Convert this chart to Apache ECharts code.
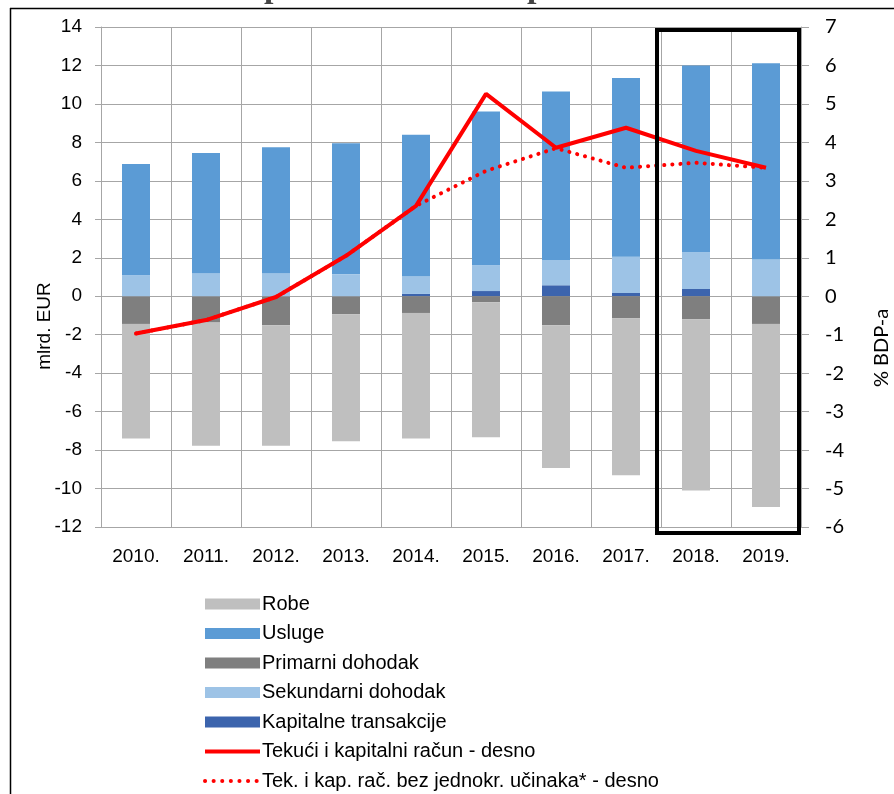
<!DOCTYPE html>
<html>
<head>
<meta charset="utf-8">
<script src="https://cdn.jsdelivr.net/npm/echarts@6/dist/echarts.min.js"></script>
<style>
html,body{margin:0;padding:0;background:#fff;}
#chart{width:894px;height:794px;}
</style>
</head>
<body>
<div id="chart"></div>
<script>
const categories = ['2010.', '2011.', '2012.', '2013.', '2014.', '2015.', '2016.', '2017.', '2018.', '2019.'];
const robe = [-5.96, -6.41, -6.27, -6.60, -6.53, -7.01, -7.42, -8.16, -8.90, -9.52];
const usluge = [5.79, 6.25, 6.55, 6.80, 7.38, 7.99, 8.76, 9.30, 9.71, 10.20];
const primarni = [-1.44, -1.37, -1.51, -0.94, -0.87, -0.32, -1.51, -1.15, -1.20, -1.44];
const sekundarni = [1.09, 1.20, 1.20, 1.15, 0.90, 1.34, 1.32, 1.88, 1.91, 1.91];
const kapitalne = [0, 0, 0, 0, 0.12, 0.27, 0.57, 0.17, 0.38, 0];
const tekuciKapitalni = [-0.97, -0.62, -0.02, 1.05, 2.35, 5.26, 3.86, 4.38, 3.78, 3.34];
const bezJednokratnih = [-0.97, -0.62, -0.02, 1.05, 2.35, 3.26, 3.85, 3.34, 3.47, 3.34];
const leftTicks = { min: -12, max: 14, interval: 2 };
const rightTicks = { min: -6, max: 7, interval: 1 };

const names = {
  robe: 'Robe',
  usluge: 'Usluge',
  primarni: 'Primarni dohodak',
  sekundarni: 'Sekundarni dohodak',
  kapitalne: 'Kapitalne transakcije',
  tekuci: 'Tekući i kapitalni račun - desno',
  bez: 'Tek. i kap. rač. bez jednokr. učinaka* - desno'
};

const chart = echarts.init(document.getElementById('chart'), null, { renderer: 'canvas' });
const gridColor = '#A6A6A6';
const barW = 28;

function bar(name, data, color) {
  return {
    name: name, type: 'bar', stack: 'total', data: data, barWidth: barW,
    itemStyle: { color: color }, emphasis: { disabled: true }
  };
}

const option = {
  animation: false,
  textStyle: { fontFamily: 'Liberation Sans, Arial, sans-serif' },
  grid: { left: 101, right: 93, top: 27, bottom: 267, containLabel: false },
  legend: {
    orient: 'vertical',
    left: 198,
    top: 589,
    height: 260,
    itemWidth: 55,
    itemHeight: 11,
    itemGap: 9.5,
    textStyle: { fontSize: 20, color: '#000', fontFamily: 'Liberation Sans, Arial, sans-serif', padding: [0, 0, 0, -3] },
    data: [
      { name: names.robe, icon: 'rect' },
      { name: names.usluge, icon: 'rect' },
      { name: names.primarni, icon: 'rect' },
      { name: names.sekundarni, icon: 'rect' },
      { name: names.kapitalne, icon: 'rect' },
      { name: names.tekuci, itemStyle: { opacity: 0 }, lineStyle: { width: 4 } },
      { name: names.bez, itemStyle: { opacity: 0 }, lineStyle: { width: 4, type: [0.1, 8.5], cap: 'round' } }
    ],
    selectedMode: false
  },
  xAxis: {
    type: 'category',
    data: categories,
    boundaryGap: true,
    axisLine: { show: true, lineStyle: { color: gridColor, width: 1 } },
    axisTick: { show: false },
    axisLabel: { fontSize: 19, color: '#000', margin: 20, fontFamily: 'Liberation Sans, Arial, sans-serif' },
    splitLine: { show: true, interval: 0, lineStyle: { color: gridColor, width: 1 } }
  },
  yAxis: [
    {
      type: 'value',
      min: leftTicks.min, max: leftTicks.max, interval: leftTicks.interval,
      axisLine: { show: true, lineStyle: { color: gridColor } },
      axisTick: { show: true, length: 6, lineStyle: { color: gridColor } },
      axisLabel: { fontSize: 19, color: '#000', margin: 19, fontFamily: 'Liberation Sans, Arial, sans-serif' },
      splitLine: { show: true, lineStyle: { color: gridColor, width: 1 } }
    },
    {
      type: 'value',
      min: rightTicks.min, max: rightTicks.max, interval: rightTicks.interval,
      position: 'right',
      axisLine: { show: true, lineStyle: { color: gridColor } },
      axisTick: { show: true, length: 8, lineStyle: { color: gridColor } },
      axisLabel: { fontSize: 20, color: '#000', margin: 24, align: 'left', fontFamily: 'Lato, Open Sans, sans-serif' },
      splitLine: { show: false }
    }
  ],
  series: [
    bar(names.kapitalne, kapitalne, '#3C64AD'),
    bar(names.primarni, primarni, '#7F7F7F'),
    bar(names.sekundarni, sekundarni, '#9DC3E6'),
    bar(names.robe, robe, '#BFBFBF'),
    bar(names.usluge, usluge, '#5B9BD5'),
    {
      name: names.tekuci, type: 'line', yAxisIndex: 1, data: tekuciKapitalni,
      symbol: 'none', lineStyle: { color: '#FF0000', width: 4 }, itemStyle: { color: '#FF0000' },
      z: 5
    },
    {
      name: names.bez, type: 'line', yAxisIndex: 1, data: bezJednokratnih,
      symbol: 'none', lineStyle: { color: '#FF0000', width: 4, type: [0.1, 8], cap: 'round' }, itemStyle: { color: '#FF0000' },
      z: 4
    }
  ],
  graphic: [
    { type: 'line', shape: { x1: 10, y1: 8.5, x2: 894, y2: 8.5 }, style: { stroke: '#000', lineWidth: 1.5 }, silent: true },
    { type: 'line', shape: { x1: 10.5, y1: 8, x2: 10.5, y2: 794 }, style: { stroke: '#000', lineWidth: 1.5 }, silent: true },
    { type: 'rect', shape: { x: 657, y: 30, width: 142, height: 503 }, style: { fill: 'none', stroke: '#000', lineWidth: 4 }, z: 100, silent: true },
    { type: 'text', left: 264, top: -29, style: { text: 'p', font: 'bold 34px "Liberation Serif", serif', fill: '#444' }, silent: true },
    { type: 'text', left: 527, top: -29, style: { text: 'p', font: 'bold 34px "Liberation Serif", serif', fill: '#444' }, silent: true },
    { type: 'text', x: 45, y: 326, rotation: Math.PI / 2, style: { text: 'mlrd. EUR', font: '19px "Liberation Sans", Arial, sans-serif', fill: '#000', align: 'center', verticalAlign: 'middle' }, silent: true },
    { type: 'text', x: 882, y: 348, rotation: Math.PI / 2, style: { text: '% BDP-a', font: '20px Lato, "Open Sans", sans-serif', fill: '#000', align: 'center', verticalAlign: 'middle' }, silent: true }
  ]
};
chart.setOption(option);
</script>
</body>
</html>
